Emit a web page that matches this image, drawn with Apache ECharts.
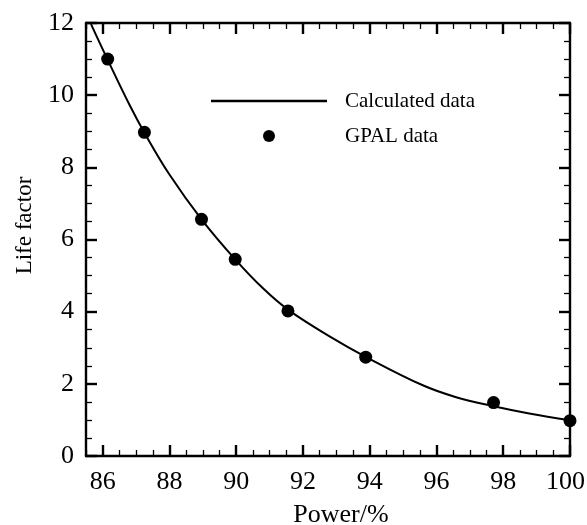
<!DOCTYPE html>
<html>
<head>
<meta charset="utf-8">
<script src="https://cdn.jsdelivr.net/npm/echarts@6/dist/echarts.min.js"></script>
<style>
  html, body { margin: 0; padding: 0; background: #fff; }
  #chart { width: 587px; height: 525px; }
</style>
</head>
<body>
<div id="chart"></div>
<script>
// Calculated life-factor curve (power %, life factor)
const calcPower = [85.65, 86.14, 86.81, 87.25, 88.0, 88.96, 89.97, 90.81,
                   91.56, 92.81, 93.88, 95.59, 96.59, 97.71, 98.78, 100];
const calcLife  = [11.97, 11.0, 9.72, 8.96, 7.80, 6.56, 5.45, 4.64,
                   4.05, 3.31, 2.75, 1.96, 1.63, 1.38, 1.18, 0.99];

// GPAL measured points
const gpalPower = [86.15, 87.25, 88.96, 89.97, 91.55, 93.88, 97.71, 100];
const gpalLife  = [11.0, 8.97, 6.56, 5.45, 4.02, 2.74, 1.48, 0.98];

// Axis ticks
const powerTicks = [86, 88, 90, 92, 94, 96, 98, 100];
const lifeTicks = [0, 2, 4, 6, 8, 10, 12];

const powerMin = 85.5, powerMax = 100;
const powerMinorTicks = [];
for (let v = powerMin; v <= powerMax + 1e-9; v += 0.5) {
  if (!powerTicks.includes(v)) powerMinorTicks.push(v);
}

const FONT = 'Liberation Serif';
const BLACK = '#000';

function xAxisBase(position, major, withLabels) {
  return {
    type: 'value',
    position: position,
    min: powerMin,
    max: powerMax,
    axisLine: { show: major, onZero: false, lineStyle: { color: BLACK, width: 2.4 } },
    axisTick: {
      show: true, inside: true,
      length: major ? 11 : 6,
      lineStyle: { color: BLACK, width: major ? 2.4 : 1.3 },
      customValues: major ? powerTicks : powerMinorTicks
    },
    axisLabel: {
      show: withLabels,
      customValues: powerTicks,
      margin: 13,
      color: BLACK,
      fontFamily: FONT,
      fontSize: 26,
      // keep the last label inside the canvas edge
      formatter: v => (v === powerMax ? '{edge|' + v + '}' : String(v)),
      rich: {
        edge: { fontFamily: FONT, fontSize: 26, color: BLACK, padding: [0, 9, 0, 0] }
      }
    },
    splitLine: { show: false }
  };
}

const xBottom = xAxisBase('bottom', true, true);
xBottom.name = 'Power/%';
xBottom.nameLocation = 'middle';
xBottom.nameGap = 46;
xBottom.nameTextStyle = { color: BLACK, fontFamily: FONT, fontSize: 26, padding: [0, 0, 0, 26] };

function yAxisBase(position, withLabels) {
  return {
    type: 'value',
    position: position,
    min: lifeTicks[0],
    max: lifeTicks[lifeTicks.length - 1],
    interval: 2,
    axisLine: { show: true, onZero: false, lineStyle: { color: BLACK, width: 2.4 } },
    axisTick: { show: true, inside: true, length: 11, lineStyle: { color: BLACK, width: 2.4 } },
    minorTick: { show: true, splitNumber: 4, length: 6, lineStyle: { color: BLACK, width: 1.3 } },
    axisLabel: {
      show: withLabels,
      margin: 12,
      color: BLACK,
      fontFamily: FONT,
      fontSize: 26
    },
    splitLine: { show: false },
    minorSplitLine: { show: false }
  };
}

const yLeft = yAxisBase('left', true);
yLeft.name = 'Life factor';
yLeft.nameLocation = 'middle';
yLeft.nameGap = 50;
yLeft.nameTextStyle = { color: BLACK, fontFamily: FONT, fontSize: 23, padding: [0, 0, 0, 28] };

const legendText = { color: BLACK, fontFamily: FONT, fontSize: 21, lineHeight: 22 };

const option = {
  backgroundColor: '#fff',
  animation: false,
  grid: { left: 86, right: 17, top: 23, bottom: 69, containLabel: false, outerBoundsMode: 'none' },
  legend: [
    {
      data: [{ name: 'Calculated data', icon: 'rect' }],
      left: 206, top: 85,
      itemWidth: 116, itemHeight: 2.5, itemGap: 0,
      itemStyle: { color: BLACK, borderWidth: 0 },
      textStyle: Object.assign({ padding: [0, 0, 0, 13] }, legendText)
    },
    {
      data: [{ name: 'GPAL data', icon: 'circle' }],
      left: 258, top: 120,
      itemWidth: 12, itemHeight: 12, itemGap: 0,
      itemStyle: { color: BLACK, opacity: 1 },
      textStyle: Object.assign({ padding: [0, 0, 0, 65] }, legendText)
    }
  ],
  xAxis: [
    xBottom,
    xAxisBase('bottom', false, false),
    xAxisBase('top', true, false),
    xAxisBase('top', false, false)
  ],
  yAxis: [
    yLeft,
    yAxisBase('right', false)
  ],
  series: [
    {
      name: 'Calculated data',
      type: 'line',
      xAxisIndex: 0,
      yAxisIndex: 0,
      data: calcPower.map((p, i) => [p, calcLife[i]]),
      smooth: 0.4,
      symbol: 'none',
      clip: true,
      lineStyle: { color: BLACK, width: 2 },
      itemStyle: { color: BLACK }
    },
    {
      name: 'GPAL data',
      type: 'scatter',
      xAxisIndex: 0,
      yAxisIndex: 0,
      data: gpalPower.map((p, i) => [p, gpalLife[i]]),
      symbol: 'circle',
      symbolSize: 13,
      clip: false,
      itemStyle: { color: BLACK, opacity: 1 }
    }
  ]
};

const chart = echarts.init(document.getElementById('chart'), null, { renderer: 'canvas' });
chart.setOption(option);
</script>
</body>
</html>
